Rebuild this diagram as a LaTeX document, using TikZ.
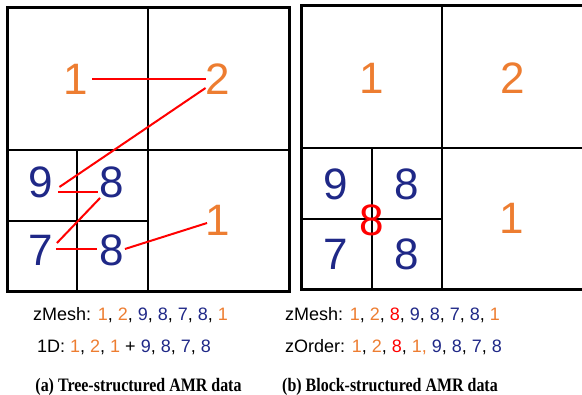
\documentclass[tikz,border=0pt]{standalone}
\usepackage{fontspec}
\setmainfont{Liberation Sans}
\newfontfamily\captfont[FakeStretch=0.84]{Liberation Serif}
\definecolor{amrorange}{RGB}{237,125,49}
\definecolor{amrblue}{RGB}{31,40,135}
\definecolor{amrred}{RGB}{255,0,0}
\newcommand{\orng}[1]{\textcolor{amrorange}{#1}}
\newcommand{\blu}[1]{\textcolor{amrblue}{#1}}
\newcommand{\rd}[1]{\textcolor{amrred}{#1}}
\begin{document}
\begin{tikzpicture}[x=1pt,y=-1pt,
  outer/.style={draw=black,line width=3pt},
  inner/.style={draw=black,line width=2pt},
  digit/.style={inner sep=0pt,font=\fontsize{44}{44}\selectfont},
  od/.style={digit,text=amrorange},
  bd/.style={digit,text=amrblue},
  rdd/.style={digit,text=amrred},
  link/.style={draw=amrred,line width=2pt},
  seq/.style={inner sep=0pt,anchor=base west,font=\fontsize{18}{18}\selectfont},
  capt/.style={inner sep=0pt,anchor=base,font=\captfont\bfseries\fontsize{19}{20}\selectfont}]
\useasboundingbox (0,0) rectangle (582,395);
% ---------- left panel ----------
\draw[inner] (148,8) -- (148,292);
\draw[inner] (7,150) -- (289,150);
\draw[inner] (77,150) -- (77,292);
\draw[inner] (7,221) -- (148,221);
\draw[outer] (7,8) rectangle (289,292);
\node[od] (a1) at (76,79) {1};
\node[od] (a2) at (218,79) {2};
\node[bd] (a9) at (41,182) {9};
\node[bd] (a8) at (112,182) {8};
\node[bd] (a7) at (41,250) {7};
\node[bd] (b8) at (112,250) {8};
\node[od] (c1) at (218,220) {1};
\draw[link] ([shift={(4,0)}]a1.east) -- (a2.west);
\draw[link] ([shift={(0,9)}]a2.west) -- ([shift={(6,5)}]a9.east);
\draw[link] ([shift={(4.5,10)}]a9.east) -- ([shift={(-1.5,10)}]a8.west);
\draw[link] ([shift={(0.5,16)}]a8.west) -- ([shift={(3.5,-7)}]a7.east);
\draw[link] ([shift={(2.5,-1)}]a7.east) -- ([shift={(-2.5,-1)}]b8.west);
\draw[link] ([shift={(0.5,-1)}]b8.east) -- ([shift={(1.5,3)}]c1.west);
% ---------- right panel ----------
\draw[inner] (442,6) -- (442,290);
\draw[inner] (301,148) -- (592,148);
\draw[inner] (372,148) -- (372,290);
\draw[inner] (301,219) -- (442,219);
\draw[outer] (301,6) rectangle (592,290);
\node[od] (r1) at (372,78) {1};
\node[od] (r2) at (513,78) {2};
\node[bd] (r9) at (336,184) {9};
\node[bd] (r8a) at (407,184) {8};
\node[bd] (r7) at (336,254) {7};
\node[bd] (r8b) at (407,254) {8};
\node[rdd] (r8r) at (372,220) {8};
\node[od] (r1b) at (512,218) {1};
% ---------- sequences ----------
\node[seq] (s1) at (33,321) {zMesh: \orng{1}, \orng{2}, \blu{9}, \blu{8}, \blu{7}, \blu{8}, \orng{1}};
\node[seq] (s2) at (37,353) {1D: \orng{1}, \orng{2}, \orng{1} + \blu{9}, \blu{8}, \blu{7}, \blu{8}};
\node[seq] (s3) at (285,321) {zMesh: \orng{1}, \orng{2}, \rd{8}, \blu{9}, \blu{8}, \blu{7}, \blu{8}, \orng{1}};
\node[seq] (s4) at (285,353) {zOrder: \orng{1}, \orng{2}, \rd{8}, \orng{1,} \blu{9}, \blu{8}, \blu{7}, \blu{8}};
% ---------- captions ----------
\node[capt] (ca) at (138.5,392) {(a) Tree-structured AMR data};
\node[capt] (cb) at (390,392) {(b) Block-structured AMR data};
\end{tikzpicture}
\end{document}
